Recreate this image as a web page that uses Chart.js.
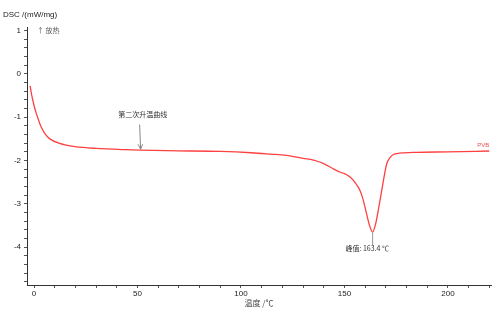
<!DOCTYPE html>
<html>
<head>
<meta charset="utf-8">
<script src="https://cdn.jsdelivr.net/npm/chart.js@4.4.1/dist/chart.umd.min.js"></script>
<style>
  html, body { margin: 0; padding: 0; background: #fff; }
  #wrap { width: 499px; height: 309px; }
</style>
</head>
<body>
<div id="wrap"><canvas id="dscChart"></canvas></div>
<script>
// temperature (°C) and DSC signal (mW/mg)
const temps = [-1.9, -1, 0, 1, 2, 2.8, 3.7, 5, 6.5, 8.6, 12, 15, 19.8, 30, 44, 51, 70, 90, 105, 114, 122,
  130, 135, 140, 144.5, 148, 150, 152.7, 155, 157.5, 159, 160.7, 162, 163.6, 165, 166.5, 168, 170.4, 172,
  173.6, 176.8, 185, 200, 220];
const dsc = [-0.28, -0.52, -0.73, -0.90, -1.04, -1.15, -1.25, -1.36, -1.45, -1.53, -1.60, -1.64, -1.68,
  -1.72, -1.75, -1.76, -1.775, -1.79, -1.82, -1.85, -1.88, -1.95, -1.99, -2.07, -2.19, -2.27, -2.30,
  -2.38, -2.50, -2.69, -2.90, -3.23, -3.48, -3.65, -3.47, -3.10, -2.69, -2.08, -1.93, -1.86, -1.83,
  -1.81, -1.80, -1.78];

const xTickLabels = [0, 50, 100, 150, 200];
const yTickLabels = [1, 0, -1, -2, -3, -4];

const peakTemp = 163.4;
const font = "'Liberation Sans', Arial, 'Noto Sans CJK SC', sans-serif";
const cjkFont = "'Noto Sans CJK SC', sans-serif";

const points = temps.map((t, i) => ({ x: t, y: dsc[i] }));

const notes = {
  id: 'notes',
  afterDraw(chart) {
    const ctx = chart.ctx;
    const x = chart.scales.x, y = chart.scales.y;
    ctx.save();
    // y title
    ctx.fillStyle = '#222';
    ctx.font = '8px ' + font;
    ctx.textAlign = 'left';
    ctx.textBaseline = 'middle';
    ctx.fillText('DSC /(mW/mg)', 3, 15);
    // exo direction
    ctx.fillStyle = '#555';
    ctx.font = '7px ' + cjkFont;
    ctx.fillText('↑ 放热', 37, 30);

    // annotation: second heating curve
    ctx.textAlign = 'center';
    ctx.fillStyle = '#333';
    ctx.fillText('第二次升温曲线', x.getPixelForValue(52.5), y.getPixelForValue(-0.94));
    const ax = x.getPixelForValue(51.5);
    const ay0 = y.getPixelForValue(-1.17), ay1 = y.getPixelForValue(-1.74);
    ctx.strokeStyle = '#888';
    ctx.lineWidth = 1;
    ctx.beginPath();
    ctx.moveTo(ax - 1, ay0);
    ctx.lineTo(ax, ay1);
    ctx.moveTo(ax - 2.5, ay1 - 5);
    ctx.lineTo(ax, ay1);
    ctx.lineTo(ax + 2, ay1 - 5);
    ctx.stroke();

    // annotation: peak
    const px = x.getPixelForValue(163.6);
    ctx.strokeStyle = '#999';
    ctx.beginPath();
    ctx.moveTo(px, y.getPixelForValue(-3.65));
    ctx.lineTo(px, y.getPixelForValue(-3.95));
    ctx.stroke();
    ctx.fillStyle = '#333';
    ctx.fillText('峰值: ' + peakTemp.toFixed(1) + ' ℃', x.getPixelForValue(161), y.getPixelForValue(-4.03));

    // series label
    ctx.fillStyle = '#f05050';
    ctx.font = '6px ' + font;
    ctx.fillText('PVB', x.getPixelForValue(217), y.getPixelForValue(-1.64));
    ctx.restore();
  }
};

new Chart(document.getElementById('dscChart'), {
  type: 'scatter',
  data: {
    datasets: [{
      data: points,
      showLine: true,
      borderColor: '#ff4040',
      borderWidth: 1.3,
      pointRadius: 0,
      cubicInterpolationMode: 'monotone'
    }]
  },
  options: {
    responsive: true,
    maintainAspectRatio: false,
    animation: false,
    layout: { padding: { top: 27, right: 8, left: 0, bottom: 0 } },
    plugins: { legend: { display: false }, tooltip: { enabled: false } },
    scales: {
      x: {
        type: 'linear',
        min: -3.4,
        max: 220.8,
        afterBuildTicks(scale) {
          const t = [];
          for (let v = 0; v <= 220; v += 10) t.push({ value: v });
          scale.ticks = t;
        },
        afterFit(scale) { scale.height = 24; },
        border: { display: true, color: '#333', width: 1 },
        grid: { drawOnChartArea: false, drawTicks: true, tickLength: 3, tickColor: '#555' },
        ticks: {
          autoSkip: false,
          maxRotation: 0,
          padding: 1,
          color: '#222',
          font: { size: 8, family: font },
          callback: v => xTickLabels.includes(v) ? String(v) : ''
        },
        title: {
          display: true,
          text: '温度 /℃',
          color: '#444',
          font: { size: 8, family: cjkFont },
          padding: { top: 0, bottom: 1 }
        }
      },
      y: {
        type: 'linear',
        min: -4.87,
        max: 1.08,
        afterBuildTicks(scale) {
          const t = [];
          for (let i = -24; i <= 5; i++) t.push({ value: Math.round(i * 2) / 10 });
          scale.ticks = t;
        },
        afterFit(scale) { scale.width = 27; },
        border: { display: true, color: '#333', width: 1 },
        grid: { drawOnChartArea: false, drawTicks: true, tickLength: 3, tickColor: '#555' },
        ticks: {
          autoSkip: false,
          padding: 3,
          color: '#222',
          font: { size: 8, family: font },
          callback: v => yTickLabels.includes(v) ? String(v) : ''
        }
      }
    }
  },
  plugins: [notes]
});
</script>
</body>
</html>
